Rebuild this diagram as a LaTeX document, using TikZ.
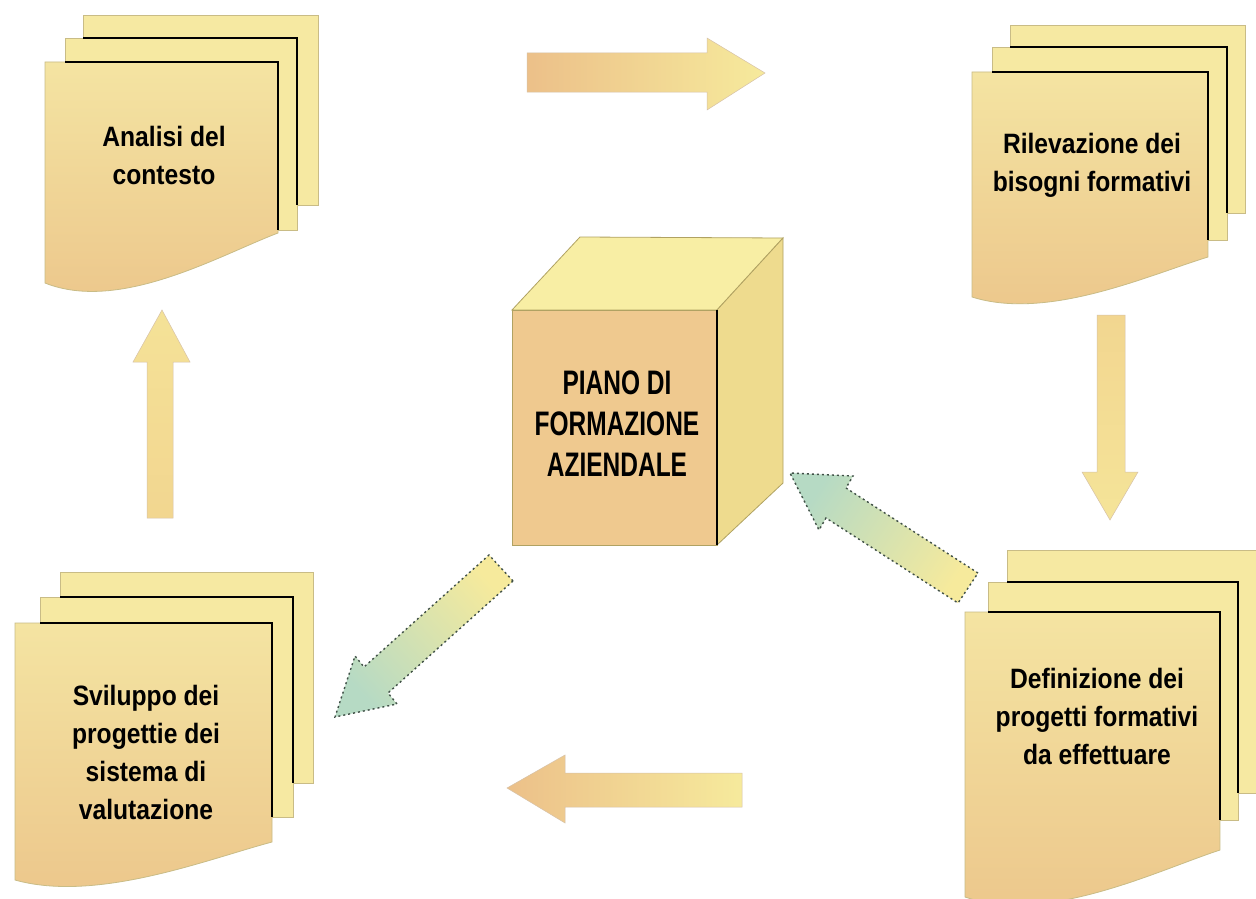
\documentclass[tikz,border=0pt]{standalone}
\usepackage{fontspec}
\setmainfont{Liberation Sans}
\newfontfamily\docfont{Liberation Sans}[FakeStretch=0.88]
\newfontfamily\cubefont{Liberation Sans}[FakeStretch=0.72]
\definecolor{sheetY}{HTML}{F6E9A2}
\definecolor{sheetEdge}{HTML}{C9BC86}
\definecolor{frontTop}{HTML}{F4E4A2}
\definecolor{frontBot}{HTML}{ECC68B}
\definecolor{cubeFront}{HTML}{EFC98F}
\definecolor{cubeTop}{HTML}{F8EEA4}
\definecolor{cubeSide}{HTML}{EEDB8E}
\definecolor{cubeEdge}{HTML}{B0A262}
\definecolor{arrTan}{HTML}{ECC089}
\definecolor{arrYel}{HTML}{F6EA9C}
\definecolor{arrMid}{HTML}{F2D690}
\definecolor{arrGreen}{HTML}{B6DAC4}
\definecolor{dashEdge}{HTML}{3F4F46}
\tikzset{
  backsheet/.style={fill=sheetY, draw=sheetEdge, line width=0.8pt},
  frontsheet/.style={top color=frontTop, bottom color=frontBot, draw=sheetEdge, line width=0.8pt},
  blackedge/.style={draw=black, line width=2.4pt, line join=miter},
  doctext/.style={font=\docfont\bfseries\fontsize{28}{38}\selectfont, align=center, text=black, inner sep=0pt},
  cubetext/.style={font=\cubefont\bfseries\fontsize{34}{41}\selectfont, align=center, text=black, inner sep=0pt},
  blockarrow/.style={draw=arrTan!80!black!60, line width=0.5pt},
  diagarrow/.style={draw=dashEdge, line width=1.4pt, dash pattern=on 2pt off 3pt},
}
\begin{document}
\begin{tikzpicture}[x=1pt, y=-1pt]
\useasboundingbox (0,0) rectangle (1256,899);
\fill[white] (0,0) rectangle (1256,899);

% ---------- Stack 1: Analisi del contesto ----------
\path[backsheet] (83,15) rectangle (318,205);
\path[backsheet] (65,38) rectangle (297,230);
\draw[blackedge] (83,38) -- (297,38) -- (297,205);
\path[frontsheet] (45,62) -- (278,62) -- (278,233) .. controls (220,255) and (120,313) .. (45,283) -- cycle;
\draw[blackedge] (65,62) -- (278,62) -- (278,230);
\node[doctext] (analisi) at (164,155) {Analisi del\\contesto};

% ---------- Stack 2: Rilevazione ----------
\path[backsheet] (1010,25) rectangle (1245,213);
\path[backsheet] (992,47) rectangle (1227,240);
\draw[blackedge] (1010,47) -- (1227,47) -- (1227,213);
\path[frontsheet] (972,72) -- (1208,72) -- (1208,257) .. controls (1149,275) and (1048,321) .. (972,297) -- cycle;
\draw[blackedge] (992,72) -- (1208,72) -- (1208,240);
\node[doctext] (rilevazione) at (1092,165) {Rilevazione dei\\bisogni formativi};

% ---------- Stack 3: Sviluppo ----------
\path[backsheet] (60,572) rectangle (313,783);
\path[backsheet] (40,597) rectangle (293,817);
\draw[blackedge] (60,597) -- (293,597) -- (293,783);
\path[frontsheet] (15,623) -- (272,623) -- (272,842) .. controls (208,859) and (97,903) .. (15,880) -- cycle;
\draw[blackedge] (40,623) -- (272,623) -- (272,817);
\node[doctext] (sviluppo) at (146,752) {Sviluppo dei\\progettie dei\\sistema di\\valutazione};

% ---------- Stack 4: Definizione ----------
\path[backsheet] (1007,550) rectangle (1262,793);
\path[backsheet] (988,582) rectangle (1238,820);
\draw[blackedge] (1007,582) -- (1238,582) -- (1238,793);
\path[frontsheet] (965,612) -- (1220,612) -- (1220,850) .. controls (1156,871) and (1047,925) .. (965,897) -- cycle;
\draw[blackedge] (988,612) -- (1220,612) -- (1220,820);
\node[doctext] (definizione) at (1097,716) {Definizione dei\\progetti formativi\\da effettuare};

% ---------- Cube ----------
\path[fill=cubeTop, draw=cubeEdge, line width=0.8pt] (512,310) -- (580,237) -- (783,238) -- (717,310) -- cycle;
\path[fill=cubeSide, draw=cubeEdge, line width=0.8pt] (717,310) -- (783,238) -- (783,483) -- (717,545) -- cycle;
\path[fill=cubeFront, draw=cubeEdge, line width=0.8pt] (512,310) rectangle (717,545);
\draw[black, line width=2.6pt] (717,310) -- (717,545);
\node[cubetext] (piano) at (617,424) {PIANO DI\\FORMAZIONE\\AZIENDALE};

% ---------- Block arrows ----------
% top: right
\path[blockarrow, left color=arrTan, right color=arrYel]
  (527,53) -- (707,53) -- (707,38) -- (765,73) -- (707,110) -- (707,92) -- (527,92) -- cycle;
% right: down
\path[blockarrow, top color=arrMid, bottom color=arrYel!70!arrMid]
  (1097,315) -- (1125,315) -- (1125,472) -- (1138,472) -- (1110,520) -- (1082,472) -- (1097,472) -- cycle;
% bottom: left
\path[blockarrow, left color=arrTan, right color=arrYel]
  (742,773) -- (565,773) -- (565,755) -- (507,788) -- (565,823) -- (565,807) -- (742,807) -- cycle;
% left: up
\path[blockarrow, top color=arrYel!60!arrMid, bottom color=arrMid]
  (147,518) -- (147,362) -- (133,362) -- (162,310) -- (190,362) -- (173,362) -- (173,518) -- cycle;
% diagonal from cube to Sviluppo
\path[diagarrow, top color=arrYel, bottom color=arrGreen, shading angle=-48]
  (513,581) -- (388,693) -- (397,704) -- (335,717) -- (355,656) -- (364,667) -- (489,555) -- cycle;
% diagonal from Definizione to cube
\path[diagarrow, top color=arrYel, bottom color=arrGreen, shading angle=-123]
  (978,573) -- (846,488) -- (853,476) -- (790,473) -- (819,530) -- (826,518) -- (958,603) -- cycle;
\end{tikzpicture}
\end{document}
